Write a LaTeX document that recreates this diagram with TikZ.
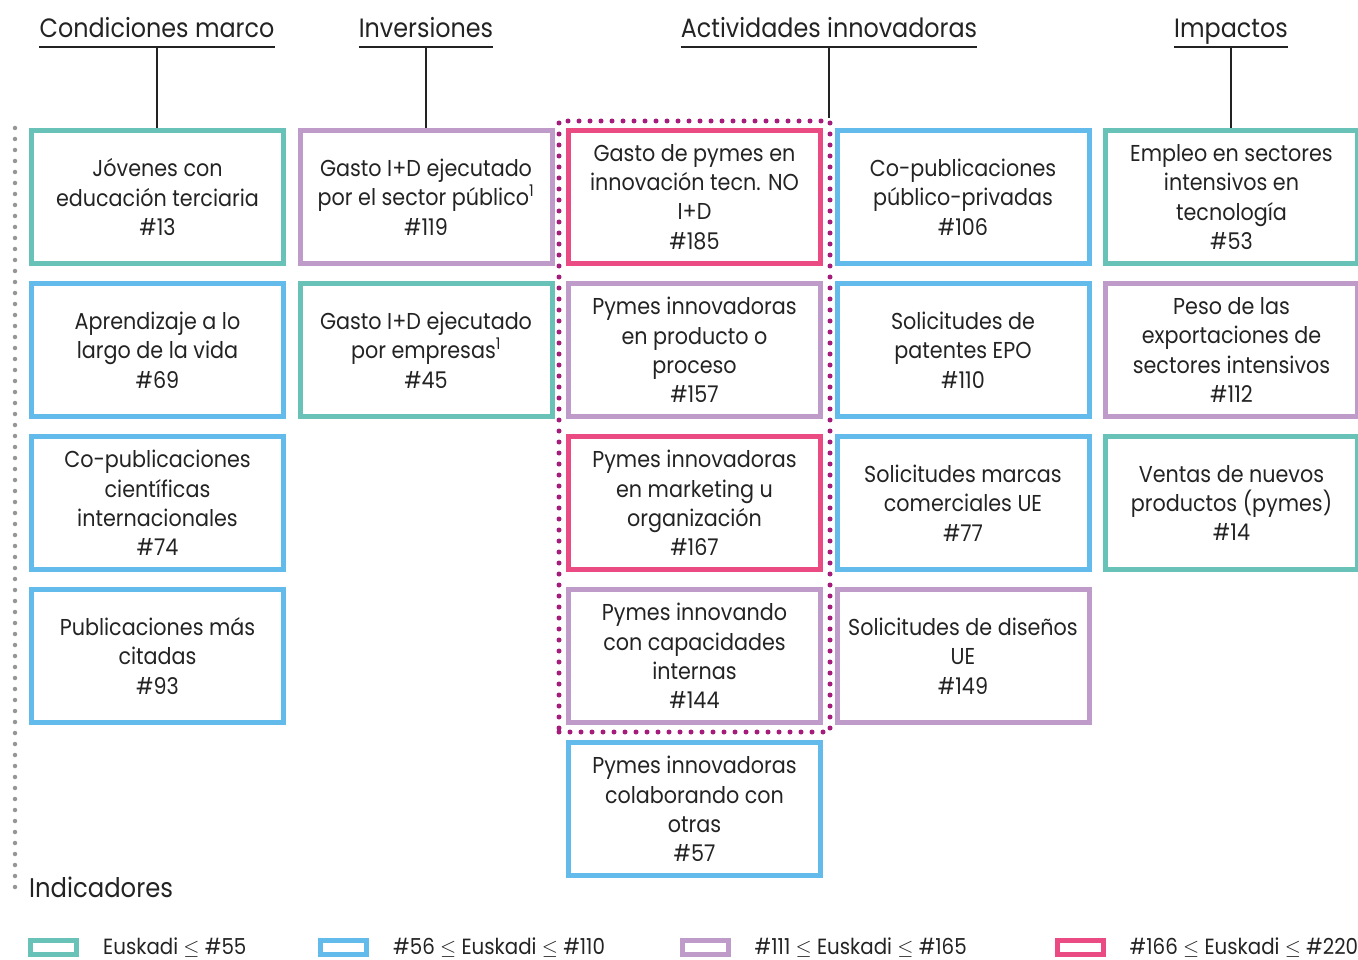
\documentclass[tikz,border=0pt]{standalone}
\usepackage{fontspec}
\setmainfont{Poppins}[FakeStretch=0.9]
\usepackage{tikz}
\usetikzlibrary{positioning,fit}
\definecolor{rankteal}{RGB}{105,194,184}
\definecolor{rankblue}{RGB}{98,187,234}
\definecolor{rankpurple}{RGB}{191,155,201}
\definecolor{rankpink}{RGB}{233,75,130}
\definecolor{groupmagenta}{RGB}{166,28,125}
\definecolor{dotgray}{RGB}{150,150,150}
\definecolor{inkdark}{RGB}{35,35,35}
\tikzset{
  indicator/.style={draw=#1,line width=5pt,minimum width=252pt,minimum height=133pt,
    align=center,inner sep=2pt,text=inkdark,font=\fontsize{23}{29.3}\selectfont},
  pillar/.style={anchor=base,inner sep=0pt,text=inkdark,font=\fontsize{26.5}{30}\selectfont},
  stem/.style={draw=inkdark,line width=2.5pt},
  group/.style={draw=groupmagenta,line width=5pt,line cap=round,dash pattern=on 0pt off 11pt,inner sep=7pt},
  legbox/.style={draw=#1,line width=5pt,minimum width=46pt,minimum height=14pt,inner sep=0pt},
  legtext/.style={anchor=west,inner sep=0pt,text=inkdark,font=\fontsize{22}{25}\selectfont}
}
\begin{document}
\begin{tikzpicture}[x=1pt,y=-1pt,node distance=15pt and 11.5pt]
\useasboundingbox (0,0) rectangle (1358,960);
\node[indicator=rankteal] (jovenes) at (157.5,197) {Jóvenes con\\educación terciaria\\\#13};
\node[indicator=rankblue, below=of jovenes] (aprendizaje) {Aprendizaje a lo\\largo de la vida\\\#69};
\node[indicator=rankblue, below=of aprendizaje] (copubint) {Co-publicaciones\\científicas\\internacionales\\\#74};
\node[indicator=rankblue, below=of copubint] (citadas) {Publicaciones más\\citadas\\\#93};
\node[indicator=rankpurple, right=of jovenes] (idpublico) {Gasto I+D ejecutado\\por el sector público\textsuperscript{1}\\\#119};
\node[indicator=rankteal, below=of idpublico] (idempresas) {Gasto I+D ejecutado\\por empresas\textsuperscript{1}\\\#45};
\node[indicator=rankpink, right=of idpublico] (noid) {Gasto de pymes en\\innovación tecn. NO\\I+D\\\#185};
\node[indicator=rankpurple, below=of noid] (producto) {Pymes innovadoras\\en producto o\\proceso\\\#157};
\node[indicator=rankpink, below=of producto] (marketing) {Pymes innovadoras\\en marketing u\\organización\\\#167};
\node[indicator=rankpurple, below=of marketing] (internas) {Pymes innovando\\con capacidades\\internas\\\#144};
\node[indicator=rankblue, below=of internas] (colaborando) {Pymes innovadoras\\colaborando con\\otras\\\#57};
\node[indicator=rankblue, right=of noid] (copubpriv) {Co-publicaciones\\público-privadas\\\#106};
\node[indicator=rankblue, below=of copubpriv] (patentes) {Solicitudes de\\patentes EPO\\\#110};
\node[indicator=rankblue, below=of patentes] (marcas) {Solicitudes marcas\\comerciales UE\\\#77};
\node[indicator=rankpurple, below=of marcas] (disenos) {Solicitudes de diseños\\UE\\\#149};
\node[indicator=rankteal, right=of copubpriv] (empleo) {Empleo en sectores\\intensivos en\\tecnología\\\#53};
\node[indicator=rankpurple, below=of empleo] (exportaciones) {Peso de las\\exportaciones de\\sectores intensivos\\\#112};
\node[indicator=rankteal, below=of exportaciones] (ventas) {Ventas de nuevos\\productos (pymes)\\\#14};
\node[group, fit=(noid) (internas)] (pymesgroup) {};
\node[pillar] (hmarco) at (157,38) {Condiciones marco};
\node[pillar] (hinversion) at (426,38) {Inversiones};
\node[pillar] (hactividad) at (829,38) {Actividades innovadoras};
\node[pillar] (himpacto) at (1231,38) {Impactos};
\foreach \h in {hmarco,hinversion,hactividad,himpacto}
  \draw[stem] ([yshift=-9pt]\h.base west) -- ([yshift=-9pt]\h.base east);
\coordinate (umarco) at ([yshift=-9pt]hmarco.base);
\coordinate (uinversion) at ([yshift=-9pt]hinversion.base);
\coordinate (uactividad) at ([yshift=-9pt]hactividad.base);
\coordinate (uimpacto) at ([yshift=-9pt]himpacto.base);
\draw[stem] (umarco) -- (umarco |- jovenes.north);
\draw[stem] (uinversion) -- (uinversion |- idpublico.north);
\draw[stem] (uactividad) -- (uactividad |- pymesgroup.north);
\draw[stem] (uimpacto) -- (uimpacto |- empleo.north);
\node[anchor=base west,inner sep=0pt,text=inkdark,font=\fontsize{27}{30}\selectfont] (indicadores) at (29,897) {Indicadores};
\coordinate (railtop) at (15,128);
\coordinate (railbottom) at (15,895);
\draw[dotgray,line width=4.5pt,line cap=round,dash pattern=on 0pt off 11pt] (railtop) -- (railbottom);
\node[legbox=rankteal] (lteal) at (53.5,947.5) {};
\node[legtext, right=24pt of lteal] (tteal) {Euskadi $\leq$ \#55};
\node[legbox=rankblue] (lblue) at (343.5,947.5) {};
\node[legtext, right=24pt of lblue] (tblue) {\#56 $\leq$ Euskadi $\leq$ \#110};
\node[legbox=rankpurple] (lpurple) at (705,947.5) {};
\node[legtext, right=24pt of lpurple] (tpurple) {\#111 $\leq$ Euskadi $\leq$ \#165};
\node[legbox=rankpink] (lpink) at (1080,947.5) {};
\node[legtext, right=24pt of lpink] (tpink) {\#166 $\leq$ Euskadi $\leq$ \#220};
\end{tikzpicture}
\end{document}
